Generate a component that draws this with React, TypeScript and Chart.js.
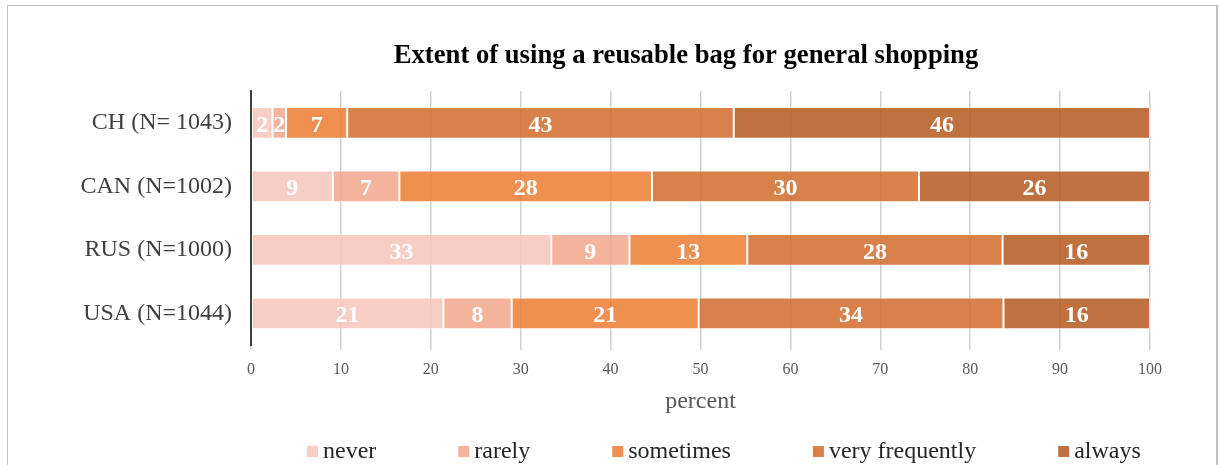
import { useEffect, useRef } from "react";
import { Chart, registerables } from "chart.js";

Chart.register(...registerables);

const FONT = "'Liberation Serif', 'Times New Roman', serif";

const chartTitle = "Extent of using a reusable bag for general shopping";
const xAxisTitle = "percent";
const categories = ["CH (N= 1043)", "CAN (N=1002)", "RUS (N=1000)", "USA (N=1044)"];
const seriesNames = ["never", "rarely", "sometimes", "very frequently", "always"];
const never = [2.4, 9.1, 33.4, 21.4];
const rarely = [1.5, 7.4, 8.7, 7.6];
const sometimes = [6.8, 28.1, 13.1, 20.8];
const veryFrequently = [43.0, 29.7, 28.4, 33.9];
const always = [46.3, 25.7, 16.4, 16.3];
const xTicks = [0, 10, 20, 30, 40, 50, 60, 70, 80, 90, 100];
const seriesColors = [
  "rgba(244,198,184,0.85)",
  "rgba(241,166,140,0.85)",
  "rgba(237,125,49,0.85)",
  "rgba(209,107,42,0.85)",
  "rgba(180,89,30,0.85)",
];

const valueLabels = {
  id: "valueLabels",
  afterDatasetsDraw(chart: any) {
    const ctx = chart.ctx;
    ctx.save();
    ctx.font = `bold 24px ${FONT}`;
    ctx.fillStyle = "#ffffff";
    ctx.textAlign = "center";
    ctx.textBaseline = "alphabetic";
    chart.data.datasets.forEach((ds: any, di: number) => {
      const meta = chart.getDatasetMeta(di);
      meta.data.forEach((el: any, i: number) => {
        const v = ds.data[i];
        const p = el.getCenterPoint();
        ctx.fillText(String(Math.round(v)), p.x, p.y + 9);
      });
    });
    ctx.restore();
  },
};

const bottomLegend = {
  id: "bottomLegend",
  afterDraw(chart: any) {
    const ctx = chart.ctx;
    ctx.save();
    ctx.font = `24px ${FONT}`;
    ctx.textAlign = "left";
    ctx.textBaseline = "alphabetic";
    let x = 307;
    chart.data.datasets.forEach((ds: any) => {
      ctx.fillStyle = ds.backgroundColor;
      ctx.fillRect(x, 446, 11, 11);
      ctx.fillStyle = "#262626";
      ctx.fillText(ds.label, x + 16, 458);
      x += 16 + ctx.measureText(ds.label).width + 82;
    });
    ctx.restore();
  },
};

// Center the title over the band used by the original chart
const titlePlacement = {
  id: "titlePlacement",
  afterLayout(chart: any) {
    const tb = chart.titleBlock;
    if (tb) {
      tb.left = 222;
      tb.right = chart.chartArea.right;
      tb.width = tb.right - tb.left;
    }
  },
};

export default function App() {
  const ref = useRef<HTMLCanvasElement>(null);

  useEffect(() => {
    if (!ref.current) return;
    Chart.defaults.font.family = FONT;
    const seriesValues = [never, rarely, sometimes, veryFrequently, always];
    const chart = new Chart(ref.current, {
      type: "bar",
      data: {
        labels: categories,
        datasets: seriesNames.map((name, i) => ({
          label: name,
          data: seriesValues[i],
          backgroundColor: seriesColors[i],
          borderColor: "rgba(255,255,255,0.5)",
          borderWidth: 1,
          borderSkipped: false,
          categoryPercentage: 1,
          barPercentage: 0.5,
        })),
      },
      options: {
        indexAxis: "y",
        responsive: false,
        animation: false,
        devicePixelRatio: 1,
        layout: { padding: { top: 8, left: 8, right: 69, bottom: 49 } },
        plugins: {
          legend: { display: false },
          tooltip: { enabled: false },
          title: {
            display: true,
            text: chartTitle,
            color: "#000000",
            font: { family: FONT, size: 26.67, weight: "bold" },
            padding: { top: 32, bottom: 19 },
          },
        },
        scales: {
          x: {
            stacked: true,
            min: 0,
            max: 100,
            afterBuildTicks: (scale: any) => {
              scale.ticks = xTicks.map((v) => ({ value: v }));
            },
            ticks: { color: "#595959", font: { family: FONT, size: 16 }, padding: 10 },
            grid: { color: "#d0d0d0", lineWidth: 1.5, drawTicks: true, tickLength: 5 },
            border: { display: false },
            title: {
              display: true,
              text: xAxisTitle,
              color: "#595959",
              font: { family: FONT, size: 24 },
              padding: { top: -2, bottom: 0 },
            },
          },
          y: {
            stacked: true,
            ticks: { color: "#404040", font: { family: FONT, size: 24 }, padding: 19 },
            grid: { display: false, drawTicks: false },
            border: { display: true, color: "#404040", width: 2 },
            afterFit: (scale: any) => {
              scale.width = 243;
            },
          },
        },
      } as any,
      plugins: [valueLabels, bottomLegend, titlePlacement],
    });
    return () => chart.destroy();
  }, []);

  return (
    <div style={{ position: "fixed", left: 0, top: 0, width: 1219, height: 465, background: "#ffffff", overflow: "hidden" }}>
      <div
        style={{
          position: "absolute",
          left: 7,
          top: 5,
          width: 1211,
          height: 500,
          border: "1px solid #c0c0c0",
          borderRightWidth: 2,
          boxSizing: "border-box",
        }}
      />
      <canvas ref={ref} width={1219} height={465} style={{ position: "absolute", left: 0, top: 0 }} />
    </div>
  );
}
